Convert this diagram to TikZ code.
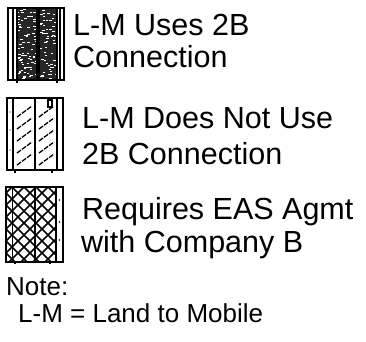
\documentclass[tikz,border=0pt]{standalone}
\usepackage{fontspec}
\setmainfont{Liberation Sans}
\usepackage{tikz}

\begin{document}
\begin{tikzpicture}[x=1pt,y=-1pt,
    legtext/.style={anchor=base west, inner sep=0pt, font=\fontsize{30.5}{33}\selectfont},
    notetext/.style={anchor=base west, inner sep=0pt, font=\fontsize{26}{28}\selectfont},
    rack/.style={black, line width=1.7pt},
    divider/.style={black, line width=1.1pt}]
    \useasboundingbox (0,0) rectangle (366,341);

    % rack that uses the 2B connection
    \begin{scope}
        \clip (17,9) rectangle (37,79) (39,9) rectangle (57,79);
        \fill[black!85] (17,9) rectangle (57,79);
        \pgfmathsetseed{7}
        \foreach \k in {1,...,150}{
            \pgfmathsetmacro{\px}{16+41*rnd}
            \pgfmathsetmacro{\py}{9+70*rnd}
            \draw[white, line width=0.9pt] (\px,\py) -- ++(2.4,0);
        }
    \end{scope}
    \draw[rack] (8,8) rectangle (64,80);
    \foreach \x in {13,17,37,39,57,60}
        \draw[divider] (\x,8) -- (\x,80);
    \foreach \x in {17,57}
        \draw[rack] (\x,80) -- (\x,82.5);

    % rack that does not use the 2B connection
    \foreach \x in {13,35}
        \foreach \y in {106,118,130,142,154}
            \draw[black, line width=1.3pt, dash pattern=on 5pt off 1.2pt] (\x+4,\y+11) -- (\x+19,\y);
    \draw[rack] (7,98) rectangle (63,170);
    \foreach \x in {13,35,57}
        \draw[divider] (\x,98) -- (\x,170);
    \draw[divider] (48,100) rectangle (52,107);
    \foreach \y in {112,130,150}
        \fill (10,\y) circle (0.7pt);
    \foreach \x in {15,52}
        \draw[rack] (\x,170) -- (\x,172.5);

    % rack that requires the EAS agreement
    \begin{scope}
        \clip (6,187) rectangle (56,262);
        \foreach \c in {-84,-72,...,144}{
            \draw[black, line width=1.7pt] (\c,187) -- ++(80,80);
            \draw[black, line width=1.7pt] (\c,187) -- ++(-80,80);
        }
    \end{scope}
    \draw[rack] (6,187) rectangle (63,262);
    \foreach \x in {12.7,35,56}
        \draw[divider] (\x,187) -- (\x,262);
    \foreach \y in {200,222,240}
        \fill (59.5,\y) circle (0.8pt);
    \foreach \x in {15,50}
        \draw[rack] (\x,262) -- (\x,264);

    % legend texts
    \node[legtext] (uses1) at (73,35) {L-M Uses 2B};
    \node[legtext] (uses2) at (73,67) {Connection};
    \node[legtext] (notuse1) at (82,128) {L-M Does Not Use};
    \node[legtext] (notuse2) at (82,164) {2B Connection};
    \node[legtext] (eas1) at (82,219) {Requires EAS Agmt};
    \node[legtext] (eas2) at (81,252) {with Company B};
    \node[notetext] (note) at (6,295) {Note:};
    \node[notetext] (notedef) at (18,322) {L-M = Land to Mobile};
\end{tikzpicture}
\end{document}
